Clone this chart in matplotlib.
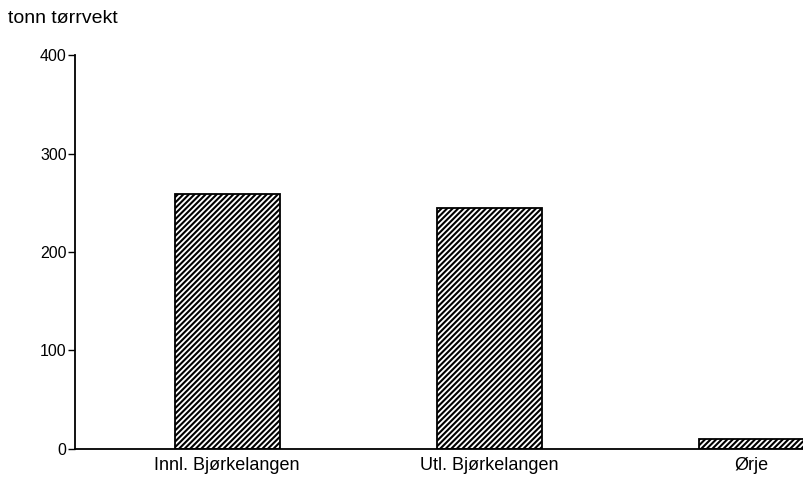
import matplotlib
matplotlib.use("Agg")
import matplotlib.pyplot as plt
import numpy as np

# data
steder = ["Innl. Bjørkelangen", "Utl. Bjørkelangen", "Ørje"]
tonn = [259, 245, 10]
yticks = [0, 100, 200, 300, 400]

plt.rcParams['font.family'] = ['Liberation Sans', 'DejaVu Sans']
plt.rcParams['hatch.linewidth'] = 1.5

fig = plt.figure(figsize=(8.04, 4.8), dpi=100)
ax = fig.add_axes([0.0933, 0.0646, 0.9067, 0.8208])

x = np.arange(len(steder))
ax.bar(x, tonn, width=0.4, color='white', edgecolor='black', linewidth=1.3,
       hatch='//////', clip_on=True)

ax.set_xlim(-0.58, 2.2)
ax.set_ylim(0, 400)
ax.set_yticks(yticks)
ax.set_xticks(x)
ax.set_xticklabels(steder, fontsize=13)
ax.tick_params(axis='x', length=0, pad=6)
ax.tick_params(axis='y', length=5, width=1, direction='out', labelsize=11.5, pad=1)
for s in ['top', 'right']:
    ax.spines[s].set_visible(False)
ax.spines['left'].set_linewidth(1.3)
ax.spines['bottom'].set_linewidth(1.3)

fig.text(0.01, 0.962, "tonn tørrvekt", fontsize=14, va='center', ha='left')

fig.savefig("out.png", dpi=100)
